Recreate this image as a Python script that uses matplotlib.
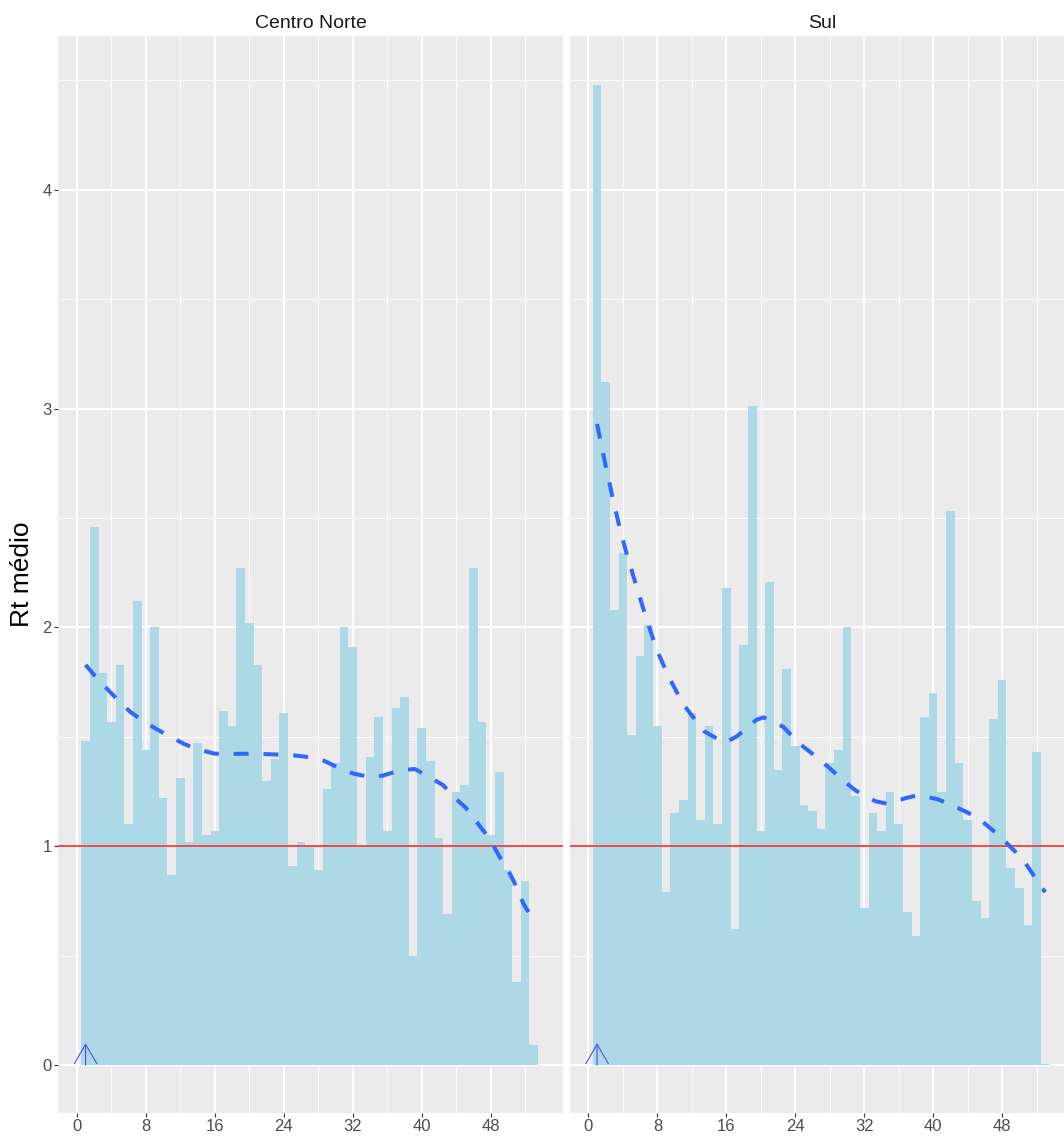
import matplotlib
matplotlib.use('Agg')
import matplotlib.pyplot as plt
from matplotlib.ticker import MultipleLocator, FixedLocator

plt.rcParams['font.family'] = ['Liberation Sans', 'DejaVu Sans']

# semanas epidemiologicas
semanas = list(range(1, 54))

regioes = ['Centro Norte', 'Sul']

rt_centro_norte = [1.48, 2.46, 1.79, 1.57, 1.83, 1.10, 2.12, 1.44, 2.00, 1.22,
                   0.87, 1.31, 1.02, 1.47, 1.05, 1.07, 1.62, 1.55, 2.27, 2.02,
                   1.83, 1.30, 1.40, 1.61, 0.91, 1.02, 1.00, 0.89, 1.26, 1.38,
                   2.00, 1.91, 1.00, 1.41, 1.59, 1.07, 1.63, 1.68, 0.50, 1.54,
                   1.39, 1.04, 0.69, 1.25, 1.28, 2.27, 1.57, 1.05, 1.34, 0.89,
                   0.38, 0.84, 0.09]

rt_sul = [4.48, 3.12, 2.08, 2.34, 1.51, 1.87, 2.01, 1.55, 0.79, 1.15,
          1.21, 1.61, 1.12, 1.55, 1.10, 2.18, 0.62, 1.92, 3.01, 1.07,
          2.21, 1.35, 1.81, 1.46, 1.19, 1.16, 1.08, 1.38, 1.44, 2.00,
          1.23, 0.72, 1.15, 1.07, 1.25, 1.10, 0.70, 0.59, 1.59, 1.70,
          1.25, 2.53, 1.38, 1.12, 0.75, 0.67, 1.58, 1.76, 0.90, 0.81,
          0.64, 1.43, 0.005]

# curva suavizada
suave_x_cn = [1.0, 2.05, 3.5, 4.65, 6.1, 7.5, 9.2, 10.7, 12.4, 14.0, 16.0, 17.7,
              19.7, 21.4, 23.3, 25.1, 27.0, 28.7, 30.5, 32.0, 34.0, 35.5, 37.6,
              39.2, 40.9, 42.5, 43.8, 45.1, 46.3, 47.4, 48.4, 49.2, 50.3, 51.0,
              51.8, 53.0]
suave_y_cn = [1.829, 1.78, 1.719, 1.673, 1.617, 1.577, 1.536, 1.504, 1.468, 1.443,
              1.423, 1.422, 1.423, 1.422, 1.419, 1.416, 1.407, 1.390, 1.356, 1.333,
              1.316, 1.323, 1.348, 1.353, 1.316, 1.279, 1.223, 1.177, 1.115, 1.059,
              0.997, 0.941, 0.870, 0.814, 0.738, 0.66]

suave_x_sul = [1.0, 1.94, 2.75, 3.6, 4.5, 5.6, 6.7, 7.9, 9.3, 11.0, 13.4, 15.8,
               17.2, 19.5, 20.3, 22.6, 24.5, 25.85, 27.9, 29.5, 31.0, 33.3, 34.7,
               36.8, 38.3, 40.5, 41.8, 43.75, 45.3, 46.8, 48.2, 49.5, 50.7, 51.9,
               53.0]
suave_y_sul = [2.93, 2.749, 2.603, 2.459, 2.326, 2.184, 2.043, 1.90, 1.775, 1.649,
               1.526, 1.472, 1.502, 1.578, 1.589, 1.546, 1.468, 1.427, 1.36, 1.302,
               1.255, 1.206, 1.194, 1.22, 1.234, 1.215, 1.194, 1.159, 1.126, 1.077,
               1.028, 0.976, 0.923, 0.853, 0.79]

x_breaks = [0, 8, 16, 24, 32, 40, 48]
x_minor = [4, 12, 20, 28, 36, 44, 52]

seta_x = 1
seta_y = [0, 0.1]
rt_ref = 1

W, H = 1064, 1138


def painel(ax, rt, sx, sy, titulo, eixo_y):
    ax.set_facecolor('#EBEBEB')
    for s in ax.spines.values():
        s.set_visible(False)
    ax.set_axisbelow(True)
    ax.xaxis.set_major_locator(FixedLocator(x_breaks))
    ax.xaxis.set_minor_locator(FixedLocator(x_minor))
    ax.yaxis.set_major_locator(MultipleLocator(1))
    ax.yaxis.set_minor_locator(MultipleLocator(0.5))
    ax.grid(which='major', color='white', linewidth=1.45)
    ax.grid(which='minor', color='white', linewidth=0.72)

    ax.bar(semanas, rt, width=1.0, color='#ADD8E6', linewidth=0)
    ax.axhline(rt_ref, color='#F5484A', linewidth=1.4)
    ax.plot(sx, sy, color='#3366FF', linewidth=2.9, dashes=(3.7, 3.7))
    ax.annotate('', xy=(seta_x, seta_y[1]), xytext=(seta_x, seta_y[0]),
                arrowprops=dict(arrowstyle='->,head_length=1.39,head_width=0.81',
                                color='#4B4BF0', linewidth=0.8,
                                shrinkA=0, shrinkB=0))

    ax.set_xlim(-2.2, 56.4)
    ax.set_ylim(-0.219, 4.703)
    ax.tick_params(which='minor', length=0)
    ax.tick_params(which='major', length=3, width=0.8, color='#333333',
                   labelcolor='#4D4D4D', labelsize=12, pad=1.5)
    if not eixo_y:
        ax.tick_params(axis='y', which='both', left=False, labelleft=False)
    ax.set_title(titulo, fontsize=14, color='#1A1A1A', pad=6)


def main():
    fig = plt.figure(figsize=(W / 100, H / 100), dpi=100)
    bottom = (H - 1113) / H
    height = (1113 - 36) / H
    ax1 = fig.add_axes([58 / W, bottom, 505 / W, height])
    ax2 = fig.add_axes([569.5 / W, bottom, 505 / W, height])
    painel(ax1, rt_centro_norte, suave_x_cn, suave_y_cn, regioes[0], True)
    painel(ax2, rt_sul, suave_x_sul, suave_y_sul, regioes[1], False)
    fig.text(22 / W, 1 - 574 / H, 'Rt médio', rotation=90, fontsize=19,
             ha='center', va='center')
    fig.savefig('out.png', dpi=100)


if __name__ == '__main__':
    main()
